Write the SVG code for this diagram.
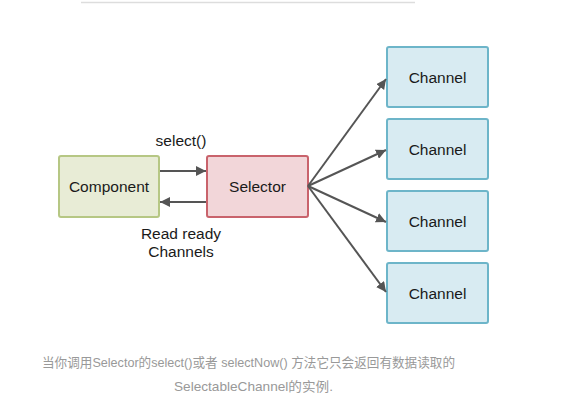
<svg xmlns="http://www.w3.org/2000/svg" width="580" height="405" viewBox="0 0 580 405">
<defs>
<marker id="ah" viewBox="0 0 10 10" refX="10" refY="5" markerWidth="10" markerHeight="10" markerUnits="userSpaceOnUse" orient="auto">
<path d="M0,0 L10,5 L0,10 z" fill="#555"/>
</marker>
</defs>
<style>
.lbl{font-family:"Liberation Sans",Arial,sans-serif;font-size:15.5px;fill:#1a1a1a;text-anchor:middle}
.ch rect{fill:#d8ebf2;stroke:#6db5c9;stroke-width:2}
.conn line{stroke:#555;stroke-width:2;marker-end:url(#ah)}
.cap{font-family:"Liberation Sans","Noto Sans CJK SC",sans-serif;font-size:13px;fill:#999;text-anchor:middle}
</style>
<rect width="580" height="405" fill="#fff"/>
<line x1="81" y1="2.5" x2="415" y2="2.5" stroke="#ddd" stroke-width="1.5"/>
<g id="component">
<rect x="59" y="156" width="100" height="61" rx="2" fill="#e8ecd6" stroke="#b6c784" stroke-width="2"/>
<text class="lbl" x="109" y="191.5">Component</text>
</g>
<g id="selector">
<rect x="207" y="156" width="101" height="61" rx="2" fill="#f2d6d9" stroke="#c9636c" stroke-width="2"/>
<text class="lbl" x="257.5" y="191.5">Selector</text>
</g>
<g id="channel1" class="ch">
<rect x="387" y="47" width="101" height="60" rx="2"/>
<text class="lbl" x="437.5" y="82.5">Channel</text>
</g>
<g id="channel2" class="ch">
<rect x="387" y="119" width="101" height="60" rx="2"/>
<text class="lbl" x="437.5" y="154.5">Channel</text>
</g>
<g id="channel3" class="ch">
<rect x="387" y="191" width="101" height="60" rx="2"/>
<text class="lbl" x="437.5" y="226.5">Channel</text>
</g>
<g id="channel4" class="ch">
<rect x="387" y="263" width="101" height="60" rx="2"/>
<text class="lbl" x="437.5" y="298.5">Channel</text>
</g>
<g id="connectors" class="conn">
<line x1="160" y1="171" x2="206" y2="171"/>
<line x1="206" y1="202" x2="160" y2="202"/>
<line x1="308" y1="186" x2="386" y2="79"/>
<line x1="308" y1="186" x2="386" y2="150"/>
<line x1="308" y1="186" x2="386" y2="222"/>
<line x1="308" y1="186" x2="386" y2="292"/>
</g>
<text class="lbl" x="181" y="146">select()</text>
<text class="lbl" x="181" y="239">Read ready</text>
<text class="lbl" x="181" y="257">Channels</text>
<text class="cap" x="248.5" y="367" textLength="413" lengthAdjust="spacingAndGlyphs">当你调用Selector的select()或者 selectNow() 方法它只会返回有数据读取的</text>
<text class="cap" x="253.5" y="391" textLength="159" lengthAdjust="spacingAndGlyphs">SelectableChannel的实例.</text>
</svg>
